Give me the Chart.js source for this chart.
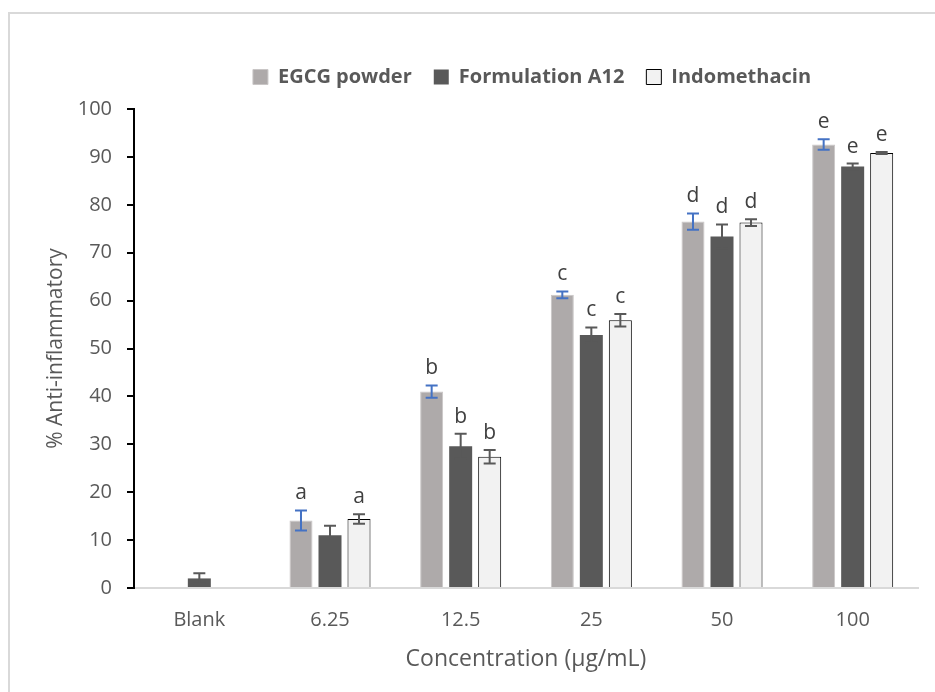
<!DOCTYPE html>
<html>
<head>
<meta charset="utf-8">
<script src="https://cdn.jsdelivr.net/npm/chart.js@4.4.0/dist/chart.umd.min.js"></script>
<style>
  html, body { margin: 0; padding: 0; background: #fff; overflow: hidden; }
  #wrap { position: relative; width: 935px; height: 692px; overflow: hidden; }
  #frame { position: absolute; left: 8px; top: 12px; width: 1000px; height: 1000px;
           border-left: 2px solid #D9D9D9; border-top: 2px solid #D9D9D9; }
  canvas { position: absolute; left: 0; top: 0; }
</style>
</head>
<body>
<div id="wrap">
  <div id="frame"></div>
  <canvas id="chart" width="935" height="692"></canvas>
</div>
<script>
'use strict';

const categories = ['Blank', '6.25', '12.5', '25', '50', '100'];

const egcg = [null, 14.1, 41.0, 61.2, 76.5, 92.6];
const egcgErr = [null, 2.1, 1.3, 0.7, 1.7, 1.1];
const egcgLetters = ['', 'a', 'b', 'c', 'd', 'e'];

const formulation = [2.0, 11.0, 29.6, 52.8, 73.4, 88.0];
const formulationErr = [1.1, 2.0, 2.6, 1.6, 2.5, 0.6];
const formulationLetters = ['', '', 'b', 'c', 'd', 'e'];

const indomethacin = [null, 14.4, 27.4, 55.9, 76.3, 90.8];
const indomethacinErr = [null, 1.0, 1.4, 1.3, 0.7, 0.2];
const indomethacinLetters = ['', 'a', 'b', 'c', 'd', 'e'];

const FONT = "'Open Sans', 'DejaVu Sans', sans-serif";
const TEXT = '#595959';

// error bars + significance letters, drawn on top of the bars
const errorBars = {
  id: 'errorBars',
  afterLayout(chart) {
    // nudge the legend to where Excel put it (centred a bit right, closer to the plot)
    const lg = chart.legend;
    if (!lg) return;
    const dx = 532 - (lg.left + lg.right) / 2;
    const h = lg.bottom - lg.top;
    lg.left += dx;
    lg.right += dx;
    lg.top = 45;
    lg.bottom = 45 + h;
  },
  afterDatasetsDraw(chart) {
    const ctx = chart.ctx;
    const y = chart.scales.y;
    ctx.save();
    chart.data.datasets.forEach((ds, i) => {
      const meta = chart.getDatasetMeta(i);
      meta.data.forEach((bar, j) => {
        const v = ds.data[j];
        if (v == null) return;
        const e = ds.errors[j];
        const yTop = y.getPixelForValue(v + e);
        const yBot = y.getPixelForValue(v - e);
        ctx.strokeStyle = ds.errColor;
        ctx.lineWidth = 2;
        ctx.beginPath();
        ctx.moveTo(bar.x, yTop);
        ctx.lineTo(bar.x, yBot);
        ctx.moveTo(bar.x - 6, yTop);
        ctx.lineTo(bar.x + 6, yTop);
        ctx.moveTo(bar.x - 6, yBot);
        ctx.lineTo(bar.x + 6, yBot);
        ctx.stroke();

        const letter = ds.letters[j];
        if (letter) {
          ctx.fillStyle = '#404040';
          ctx.font = '21px ' + FONT;
          ctx.textAlign = 'center';
          ctx.textBaseline = 'alphabetic';
          ctx.fillText(letter, bar.x, yTop - 11);
        }
      });
    });
    ctx.restore();
  }
};

new Chart(document.getElementById('chart'), {
  type: 'bar',
  data: {
    labels: categories,
    datasets: [{
      label: 'EGCG powder',
      data: egcg,
      errors: egcgErr,
      letters: egcgLetters,
      errColor: '#4472C4',
      backgroundColor: '#AEAAAA',
      borderColor: '#C9C6C6',
      borderWidth: 1
    }, {
      label: 'Formulation A12',
      data: formulation,
      errors: formulationErr,
      letters: formulationLetters,
      errColor: '#595959',
      backgroundColor: '#595959',
      borderColor: '#595959',
      borderWidth: 0
    }, {
      label: 'Indomethacin',
      data: indomethacin,
      errors: indomethacinErr,
      letters: indomethacinLetters,
      errColor: '#595959',
      backgroundColor: '#F2F2F2',
      borderColor: '#000000',
      borderWidth: 1
    }]
  },
  options: {
    responsive: false,
    animation: false,
    devicePixelRatio: 1,
    categoryPercentage: 0.666,
    barPercentage: 0.793,
    layout: { padding: { left: 0, right: 17, top: 57, bottom: 0 } },
    plugins: {
      legend: {
        position: 'top',
        align: 'center',
        labels: {
          boxWidth: 15,
          boxHeight: 15,
          padding: 22,
          color: TEXT,
          font: { family: FONT, size: 20, weight: 'bold' }
        }
      },
      tooltip: { enabled: false }
    },
    scales: {
      x: {
        grid: { display: false, drawTicks: false },
        border: { display: true, color: '#D9D9D9', width: 2 },
        ticks: { color: TEXT, padding: 20, font: { family: FONT, size: 20 } },
        title: {
          display: true,
          text: 'Concentration (µg/mL)',
          color: TEXT,
          font: { family: FONT, size: 23 },
          padding: { top: 0, bottom: 19 }
        },
        afterFit(s) { s.height = 104; }
      },
      y: {
        min: 0,
        max: 100,
        ticks: { stepSize: 10, padding: 15, color: TEXT, font: { family: FONT, size: 20 } },
        grid: { display: true, drawOnChartArea: false, drawTicks: true, tickLength: 7, color: '#000', lineWidth: 2 },
        border: { display: true, color: '#000', width: 2 },
        title: {
          display: true,
          text: '% Anti-inflammatory',
          color: TEXT,
          font: { family: FONT, size: 21 },
          padding: { top: 43, bottom: 0 }
        },
        afterFit(s) { s.width = 134; }
      }
    }
  },
  plugins: [errorBars]
});
</script>
</body>
</html>
